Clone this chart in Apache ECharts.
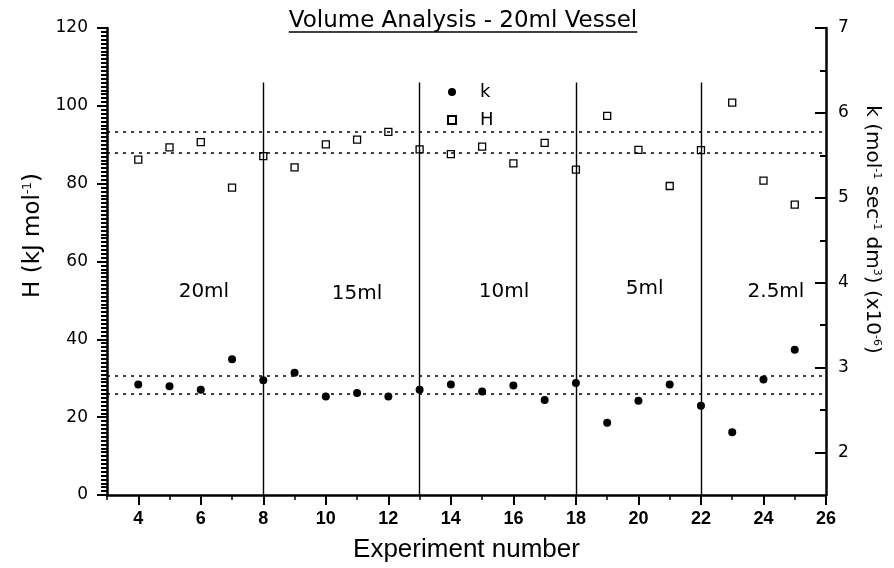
<!DOCTYPE html>
<html>
<head>
<meta charset="utf-8">
<script src="https://cdn.jsdelivr.net/npm/echarts@6/dist/echarts.min.js"></script>
<style>
  html, body { margin: 0; padding: 0; background: #fff; }
  #chart { width: 894px; height: 568px; }
</style>
</head>
<body>
<div id="chart"></div>
<script>
// datos
const experiments = [4, 5, 6, 7, 8, 9, 10, 11, 12, 13, 14, 15, 16, 17, 18, 19, 20, 21, 22, 23, 24, 25];
const hValues = [86.2, 89.3, 90.7, 79.0, 87.1, 84.2, 90.1, 91.3, 93.3, 88.8, 87.6, 89.5, 85.2, 90.5, 83.6, 97.4, 88.7, 79.4, 88.6, 100.8, 80.8, 74.6];
const kValues = [2.80, 2.78, 2.74, 3.10, 2.85, 2.94, 2.66, 2.70, 2.66, 2.74, 2.80, 2.72, 2.79, 2.62, 2.82, 2.35, 2.61, 2.80, 2.55, 2.24, 2.86, 3.21];

const hBandLines = [93.4, 88.0];
const kBandLines = [2.90, 2.69];
const dividers = [8, 13, 18, 22];
const dividerTop = 106;

const volumeLabels = ['20ml', '15ml', '10ml', '5ml', '2.5ml'];
const volumeLabelX = [6.1, 11.0, 15.7, 20.2, 24.4];
const volumeLabelY = [52.3, 51.6, 52.3, 53.1, 52.3];

const xMajorTicks = [4, 6, 8, 10, 12, 14, 16, 18, 20, 22, 24, 26];
const xMinorTicks = [3, 5, 7, 9, 11, 13, 15, 17, 19, 21, 23, 25];
const kMajorTicks = [2, 3, 4, 5, 6, 7];
const kMinorTicks = [2.5, 3.5, 4.5, 5.5, 6.5];

const titleText = 'Volume Analysis - 20ml Vessel';
const titleFont = '23px "DejaVu Sans"';
const titleCenterX = 463;

const chartDom = document.getElementById('chart');
const myChart = echarts.init(chartDom);

// ancho del titulo para el subrayado
const ctx = document.createElement('canvas').getContext('2d');
ctx.font = titleFont;
const titleWidth = ctx.measureText(titleText).width;

const dashed = { type: [3, 5], color: '#000', width: 1.6 };

const series = [
  {
    type: 'scatter',
    name: 'k',
    yAxisIndex: 1,
    data: experiments.map((x, i) => [x, kValues[i]]),
    symbol: 'circle',
    symbolSize: 8,
    itemStyle: { color: '#000', opacity: 1 },
    markLine: {
      silent: true,
      symbol: 'none',
      label: { show: false },
      lineStyle: dashed,
      data: kBandLines.map(v => ({ yAxis: v }))
    }
  },
  {
    type: 'scatter',
    name: 'H',
    yAxisIndex: 0,
    data: experiments.map((x, i) => [x, hValues[i]]),
    symbol: 'rect',
    symbolSize: 7,
    itemStyle: { color: '#fff', borderColor: '#000', borderWidth: 1.3, opacity: 1 },
    markLine: {
      silent: true,
      symbol: 'none',
      label: { show: false },
      lineStyle: dashed,
      data: [
        ...hBandLines.map(v => ({ yAxis: v })),
        ...dividers.map(x => [
          { coord: [x, 0], lineStyle: { type: 'solid', width: 1.4, color: '#000' } },
          { coord: [x, dividerTop] }
        ])
      ]
    }
  },
  {
    type: 'scatter',
    name: 'volumes',
    yAxisIndex: 0,
    silent: true,
    symbolSize: 0,
    itemStyle: { opacity: 1 },
    data: volumeLabels.map((t, i) => ({ value: [volumeLabelX[i], volumeLabelY[i]], name: t })),
    label: {
      show: true,
      position: 'inside',
      formatter: p => p.name,
      fontFamily: 'DejaVu Sans',
      fontSize: 20,
      color: '#000'
    }
  }
];

const option = {
  animation: false,
  textStyle: { fontFamily: 'DejaVu Sans', color: '#000' },
  graphic: [
    {
      type: 'text',
      x: titleCenterX,
      y: 21,
      style: { text: titleText, font: titleFont, fill: '#000', textAlign: 'center', textVerticalAlign: 'middle' }
    },
    {
      type: 'line',
      shape: { x1: titleCenterX - titleWidth / 2, y1: 32, x2: titleCenterX + titleWidth / 2, y2: 32 },
      style: { stroke: '#000', lineWidth: 1.5 }
    }
  ],
  legend: {
    data: ['k', 'H'],
    orient: 'vertical',
    left: 442,
    top: 78,
    itemWidth: 8,
    itemHeight: 8,
    itemGap: 10,
    textStyle: { fontFamily: 'DejaVu Sans', fontSize: 18, color: '#000', padding: [0, 0, 0, 19] }
  },
  grid: { left: 107, right: 68, top: 28, bottom: 70 },
  xAxis: [
    {
      type: 'value',
      min: 3,
      max: 26,
      name: 'Experiment number',
      nameLocation: 'middle',
      nameGap: 42,
      nameTextStyle: { fontFamily: 'Liberation Sans', fontSize: 26, color: '#000' },
      axisLine: { show: true, onZero: false, lineStyle: { color: '#000', width: 2.5 } },
      axisTick: { show: true, length: 10, lineStyle: { width: 2, color: '#000' }, customValues: xMajorTicks },
      axisLabel: { customValues: xMajorTicks, fontFamily: 'Liberation Sans', fontWeight: 'bold', fontSize: 18, color: '#000', margin: 15 },
      splitLine: { show: false }
    },
    {
      type: 'value',
      min: 3,
      max: 26,
      position: 'bottom',
      axisLine: { show: false },
      axisTick: { show: true, length: 5, lineStyle: { width: 1.5, color: '#000' }, customValues: xMinorTicks },
      axisLabel: { show: false },
      splitLine: { show: false }
    }
  ],
  yAxis: [
    {
      type: 'value',
      position: 'left',
      min: 0,
      max: 120,
      interval: 20,
      name: '{n|H (kJ mol}{s|-1}{n|)}',
      nameLocation: 'middle',
      nameGap: 55,
      nameRotate: 90,
      nameTextStyle: {
        padding: [0, 0, 0, 52],
        rich: {
          n: { fontFamily: 'DejaVu Sans', fontSize: 23, color: '#000' },
          s: { fontFamily: 'DejaVu Sans', fontSize: 12, color: '#000', verticalAlign: 'top' }
        }
      },
      axisLine: { show: true, lineStyle: { color: '#000', width: 2.5 } },
      axisTick: { show: true, length: 10, lineStyle: { width: 2, color: '#000' } },
      minorTick: { show: true, splitNumber: 20, length: 6, lineStyle: { width: 2, color: '#000' } },
      axisLabel: { fontFamily: 'DejaVu Sans', fontSize: 17, color: '#000', margin: 19 },
      splitLine: { show: false }
    },
    {
      type: 'value',
      position: 'right',
      min: 1.5,
      max: 7,
      name: '{n|k (mol}{s|-1}{n| sec}{s|-1}{n| dm}{s|3}{n|) (x10}{s|-6}{n|)}',
      nameLocation: 'middle',
      nameGap: 36,
      nameRotate: -90,
      nameTextStyle: {
        padding: [0, 64, 0, 0],
        rich: {
          n: { fontFamily: 'DejaVu Sans', fontSize: 20, color: '#000' },
          s: { fontFamily: 'DejaVu Sans', fontSize: 11, color: '#000', verticalAlign: 'top' }
        }
      },
      axisLine: { show: true, lineStyle: { color: '#000', width: 2.5 } },
      axisTick: { show: true, inside: true, length: 11, lineStyle: { width: 2, color: '#000' }, customValues: kMajorTicks },
      axisLabel: { customValues: kMajorTicks, fontFamily: 'DejaVu Sans', fontSize: 17, color: '#000', margin: 12 },
      splitLine: { show: false }
    },
    {
      type: 'value',
      position: 'right',
      min: 1.5,
      max: 7,
      axisLine: { show: false },
      axisTick: { show: true, inside: true, length: 6, lineStyle: { width: 2, color: '#000' }, customValues: kMinorTicks },
      axisLabel: { show: false },
      splitLine: { show: false }
    }
  ],
  series
};

myChart.setOption(option);
</script>
</body>
</html>
